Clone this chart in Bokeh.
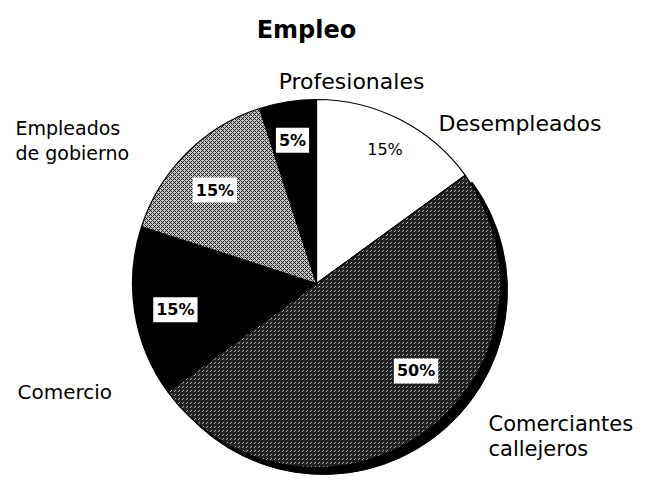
import math
from bokeh.plotting import figure
from bokeh.models import Range1d, Label
from bokeh.core.properties import value
from bokeh.embed import file_html
from bokeh.resources import INLINE

# ---- data ----
title = "Empleo"
categories = ["Desempleados", "Comerciantes callejeros", "Comercio",
              "Empleados de gobierno", "Profesionales"]
shares = [15, 50, 15, 15, 5]
share_labels = ["15%", "50%", "15%", "15%", "5%"]

# ---- styles ----
fills = ["white", "#222222", "black", "#c4c4c4", "black"]
hatches = [None, "right_diagonal_dash", None, "diagonal_cross", None]
hatch_colors = [None, "white", None, "black", None]
hatch_alphas = [None, 0.65, None, 0.8, None]
boxed = [False, True, True, True, True]
FONT = "DejaVu Sans"

# ---- layout (page pixels) ----
OX, OY = 0, 0
W, H = 640, 478
CX, CY, R = 316, 283, 184


def X(px):
    return px - CX


def Y(py):
    return CY - py


p = figure(width=W, height=H, output_backend="svg", toolbar_location=None,
           x_range=Range1d(X(OX), X(OX + W)), y_range=Range1d(Y(OY + H), Y(OY)),
           x_axis_location=None, y_axis_location=None, min_border=0)
p.grid.visible = False
p.outline_line_color = None
p.background_fill_color = "white"
p.border_fill_color = "white"

# angles (clockwise from 12 o'clock)
starts, ends = [], []
cum = 0
for s in shares:
    a0 = math.pi / 2 - 2 * math.pi * cum / 100
    cum += s
    a1 = math.pi / 2 - 2 * math.pi * cum / 100
    starts.append(a1)
    ends.append(a0)

# shadow under the large slice
big = shares.index(max(shares))
p.wedge(x=7, y=-7, radius=R, start_angle=starts[big], end_angle=ends[big],
        fill_color="black", line_color="black")

for i in range(len(shares)):
    kw = {}
    if hatches[i]:
        kw = dict(hatch_pattern=hatches[i], hatch_color=hatch_colors[i],
                  hatch_scale=4, hatch_weight=1.0, hatch_alpha=hatch_alphas[i])
    p.wedge(x=0, y=0, radius=R, start_angle=starts[i], end_angle=ends[i],
            fill_color=fills[i], line_color="black", line_width=1.2, **kw)

# percent labels
label_frac = [0.82, 0.72, 0.78, 0.75, 0.79]
label_dangle = [0, 12.7, 1.5, 2.4, 0.5]
for i, txt in enumerate(share_labels):
    mid = (starts[i] + ends[i]) / 2 + math.radians(label_dangle[i])
    r = R * label_frac[i]
    kw = dict(background_fill_color="white", padding=3,
              text_font_style="bold") if boxed[i] else {}
    p.add_layout(Label(x=r * math.cos(mid), y=r * math.sin(mid), text=txt,
                       text_align="center", text_baseline="middle",
                       text_font=FONT, text_font_size="16px",
                       text_color="black", **kw))

# category labels: (lines, x, first baseline, align, size)
cat_layout = [
    (["Desempleados"], 438, 123, "left", "22px"),
    (["Comerciantes", "callejeros"], 488, 423, "left", "21px"),
    (["Comercio"], 17, 391, "left", "20px"),
    (["Empleados", "de gobierno"], 15, 127, "left", "19px"),
    (["Profesionales"], 351, 81, "center", "22px"),
]
for name, (lines, lx, ly, al, sz) in zip(categories, cat_layout):
    for k, line in enumerate(lines):
        p.text(x=[X(lx)], y=[Y(ly + 25 * k)], text=[line],
               text_align=al, text_baseline="alphabetic",
               text_font=value(FONT), text_font_size=sz, text_color="black")

# title
p.text(x=[X(306)], y=[Y(29)], text=[title], text_align="center",
       text_baseline="alphabetic", text_font=value(FONT),
       text_font_size="24px", text_font_style="bold", text_color="black")

open("out.html", "w").write(file_html(p, INLINE))
